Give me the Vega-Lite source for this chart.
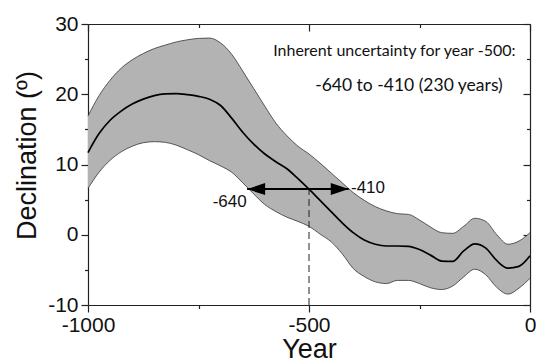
{
  "$schema": "https://vega.github.io/schema/vega-lite/v6.json",
  "width": 442,
  "height": 281,
  "autosize": {"type": "none"},
  "padding": {"left": 88, "top": 24, "right": 6, "bottom": 58},
  "background": "white",
  "config": {"view": {"stroke": null}, "font": "Liberation Sans"},
  "datasets": {
    "decl": [
      {"year": -1000, "upper": 16.9, "mid": 11.7, "lower": 6.6},
      {"year": -975, "upper": 19.8, "mid": 14.4, "lower": 8.9},
      {"year": -950, "upper": 22.0, "mid": 16.3, "lower": 10.6},
      {"year": -925, "upper": 23.7, "mid": 17.6, "lower": 11.8},
      {"year": -900, "upper": 24.9, "mid": 18.6, "lower": 12.6},
      {"year": -875, "upper": 25.8, "mid": 19.3, "lower": 13.1},
      {"year": -850, "upper": 26.5, "mid": 19.8, "lower": 13.25},
      {"year": -825, "upper": 27.0, "mid": 20.05, "lower": 13.15},
      {"year": -800, "upper": 27.45, "mid": 20.1, "lower": 12.75},
      {"year": -775, "upper": 27.75, "mid": 19.95, "lower": 12.1},
      {"year": -750, "upper": 27.95, "mid": 19.7, "lower": 11.4},
      {"year": -725, "upper": 28.0, "mid": 19.3, "lower": 10.55},
      {"year": -700, "upper": 27.3, "mid": 18.4, "lower": 9.8},
      {"year": -675, "upper": 25.7, "mid": 16.6, "lower": 8.9},
      {"year": -650, "upper": 23.3, "mid": 14.6, "lower": 7.4},
      {"year": -625, "upper": 20.8, "mid": 12.9, "lower": 5.8},
      {"year": -600, "upper": 18.3, "mid": 11.5, "lower": 4.3},
      {"year": -575, "upper": 15.9, "mid": 10.4, "lower": 3.3},
      {"year": -550, "upper": 14.1, "mid": 9.4, "lower": 2.5},
      {"year": -525, "upper": 12.6, "mid": 8.0, "lower": 1.9},
      {"year": -500, "upper": 11.5, "mid": 6.5, "lower": 1.2},
      {"year": -475, "upper": 10.2, "mid": 4.9, "lower": 0.1},
      {"year": -450, "upper": 8.8, "mid": 3.3, "lower": -1.0},
      {"year": -425, "upper": 7.4, "mid": 1.7, "lower": -2.7},
      {"year": -400, "upper": 6.0, "mid": 0.3, "lower": -4.8},
      {"year": -375, "upper": 4.9, "mid": -0.75, "lower": -5.95},
      {"year": -350, "upper": 4.0, "mid": -1.35, "lower": -6.7},
      {"year": -325, "upper": 3.4, "mid": -1.6, "lower": -6.95},
      {"year": -300, "upper": 3.0, "mid": -1.6, "lower": -6.5},
      {"year": -275, "upper": 2.9, "mid": -1.65, "lower": -6.5},
      {"year": -250, "upper": 2.1, "mid": -2.1, "lower": -6.95},
      {"year": -225, "upper": 1.1, "mid": -2.9, "lower": -7.55},
      {"year": -200, "upper": 0.3, "mid": -3.75, "lower": -7.8},
      {"year": -175, "upper": 0.2, "mid": -3.8, "lower": -7.3},
      {"year": -150, "upper": 1.2, "mid": -2.3, "lower": -6.0},
      {"year": -125, "upper": 2.35, "mid": -1.3, "lower": -4.9},
      {"year": -100, "upper": 1.9, "mid": -1.9, "lower": -5.7},
      {"year": -75, "upper": 0.0, "mid": -3.7, "lower": -7.5},
      {"year": -50, "upper": -1.35, "mid": -4.75, "lower": -8.45},
      {"year": -25, "upper": -0.9, "mid": -4.5, "lower": -7.6},
      {"year": 0, "upper": 0.3, "mid": -3.0, "lower": -6.2}
    ]
  },
  "layer": [
    {
      "data": {"name": "decl"},
      "mark": {"type": "area", "interpolate": "monotone", "color": "#b3b3b3", "opacity": 1},
      "encoding": {
        "x": {
          "field": "year", "type": "quantitative",
          "scale": {"domain": [-1000, 0], "nice": false, "zero": false},
          "axis": {
            "orient": "bottom",
            "values": [-1000, -750, -500, -250, 0],
            "labelExpr": "datum.value % 500 === 0 ? '' + datum.value : ''",
            "tickSize": {"condition": {"test": "datum.value % 500 !== 0", "value": 3.5}, "value": 7},
            "tickColor": "#222", "tickWidth": 1.2,
            "domainColor": "#222", "domainWidth": 1.2,
            "grid": false,
            "labelFont": "Liberation Sans", "labelFontSize": 21, "labelColor": "#111",
            "labelPadding": 2, "labelFlush": false, "labelOverlap": false, "labelBound": false,
            "title": "Year",
            "titleFont": "Liberation Sans", "titleFontSize": 27, "titleFontWeight": "normal", "titleColor": "#111",
            "titleBaseline": "alphabetic", "titleX": 221, "titleY": 52
          }
        },
        "y": {
          "field": "lower", "type": "quantitative",
          "scale": {"domain": [-10, 30], "nice": false, "zero": false},
          "axis": {
            "orient": "left",
            "values": [-10, -5, 0, 5, 10, 15, 20, 25, 30],
            "labelExpr": "datum.value % 10 === 0 ? '' + datum.value : ''",
            "tickSize": {"condition": {"test": "datum.value % 10 !== 0", "value": 3.5}, "value": 7},
            "tickColor": "#222", "tickWidth": 1.2,
            "domainColor": "#222", "domainWidth": 1.2,
            "grid": false,
            "labelFont": "Liberation Sans", "labelFontSize": 21, "labelColor": "#111",
            "labelPadding": 3, "labelOverlap": false, "labelBound": false, "labelFlush": false,
            "title": "Declination (º)",
            "titleFont": "Liberation Sans", "titleFontSize": 27, "titleFontWeight": "normal", "titleColor": "#111",
            "titleAngle": -90, "titleBaseline": "alphabetic", "titleAlign": "center",
            "titleX": -53, "titleY": 131
          }
        },
        "y2": {"field": "upper"}
      }
    },
    {
      "data": {"name": "decl"},
      "mark": {"type": "line", "interpolate": "monotone", "color": "#333", "strokeWidth": 0.8},
      "encoding": {
        "x": {
          "field": "year", "type": "quantitative",
          "axis": {
            "orient": "top",
            "values": [-1000, -750, -500, -250, 0],
            "labels": false,
            "tickSize": {"condition": {"test": "datum.value % 500 !== 0", "value": -3.5}, "value": -7},
            "tickColor": "#222", "tickWidth": 1.2,
            "domainColor": "#222", "domainWidth": 1.2,
            "grid": false, "title": null
          }
        },
        "y": {
          "field": "upper", "type": "quantitative",
          "axis": {
            "orient": "right",
            "values": [-10, -5, 0, 5, 10, 15, 20, 25, 30],
            "labels": false,
            "tickSize": {"condition": {"test": "datum.value % 10 !== 0", "value": -3.5}, "value": -7},
            "tickColor": "#222", "tickWidth": 1.2,
            "domainColor": "#222", "domainWidth": 1.2,
            "grid": false, "title": null
          }
        }
      }
    },
    {
      "data": {"name": "decl"},
      "mark": {"type": "line", "interpolate": "monotone", "color": "#333", "strokeWidth": 0.8},
      "encoding": {
        "x": {"field": "year", "type": "quantitative", "axis": null},
        "y": {"field": "lower", "type": "quantitative", "axis": null}
      }
    },
    {
      "data": {"name": "decl"},
      "mark": {"type": "line", "interpolate": "monotone", "color": "#000", "strokeWidth": 1.7},
      "encoding": {
        "x": {"field": "year", "type": "quantitative", "axis": null},
        "y": {"field": "mid", "type": "quantitative", "axis": null}
      }
    },
    {
      "data": {"values": [{"year": -500, "bottom": -10, "top": 6.5}]},
      "mark": {"type": "rule", "color": "#222", "strokeWidth": 1, "strokeDash": [7, 4]},
      "encoding": {
        "x": {"field": "year", "type": "quantitative", "axis": null},
        "y": {"field": "bottom", "type": "quantitative", "axis": null},
        "y2": {"field": "top"}
      }
    },
    {
      "data": {"values": [{"from": -640, "to": -410, "deg": 6.5}]},
      "mark": {"type": "rule", "color": "#000", "strokeWidth": 2},
      "encoding": {
        "x": {"field": "from", "type": "quantitative", "axis": null},
        "x2": {"field": "to"},
        "y": {"field": "deg", "type": "quantitative", "axis": null}
      }
    },
    {
      "data": {"values": [{"year": -640, "deg": 6.5}]},
      "mark": {"type": "point", "shape": "M0,0L2,-0.667L2,0.667Z", "size": 324, "filled": true, "color": "#000", "opacity": 1},
      "encoding": {
        "x": {"field": "year", "type": "quantitative", "axis": null},
        "y": {"field": "deg", "type": "quantitative", "axis": null}
      }
    },
    {
      "data": {"values": [{"year": -410, "deg": 6.5}]},
      "mark": {"type": "point", "shape": "M0,0L-2,-0.667L-2,0.667Z", "size": 324, "filled": true, "color": "#000", "opacity": 1},
      "encoding": {
        "x": {"field": "year", "type": "quantitative", "axis": null},
        "y": {"field": "deg", "type": "quantitative", "axis": null}
      }
    },
    {
      "data": {"values": [{"year": -641, "deg": 4.0, "label": "-640"}]},
      "mark": {"type": "text", "align": "right", "baseline": "alphabetic", "font": "Liberation Sans", "fontSize": 17, "color": "#111"},
      "encoding": {
        "x": {"field": "year", "type": "quantitative", "axis": null},
        "y": {"field": "deg", "type": "quantitative", "axis": null},
        "text": {"field": "label"}
      }
    },
    {
      "data": {"values": [{"year": -405, "deg": 5.9, "label": "-410"}]},
      "mark": {"type": "text", "align": "left", "baseline": "alphabetic", "font": "Liberation Sans", "fontSize": 17, "color": "#111"},
      "encoding": {
        "x": {"field": "year", "type": "quantitative", "axis": null},
        "y": {"field": "deg", "type": "quantitative", "axis": null},
        "text": {"field": "label"}
      }
    },
    {
      "data": {"values": [
        {"year": -581, "deg": 25.5, "note": "Inherent uncertainty for year -500:"}
      ]},
      "mark": {"type": "text", "align": "left", "baseline": "alphabetic", "font": "Lato", "fontSize": 16, "color": "#111"},
      "encoding": {
        "x": {"field": "year", "type": "quantitative", "axis": null},
        "y": {"field": "deg", "type": "quantitative", "axis": null},
        "text": {"field": "note"}
      }
    },
    {
      "data": {"values": [
        {"year": -486, "deg": 20.4, "note": "-640 to -410 (230 years)"}
      ]},
      "mark": {"type": "text", "align": "left", "baseline": "alphabetic", "font": "Lato", "fontSize": 17.5, "color": "#111"},
      "encoding": {
        "x": {"field": "year", "type": "quantitative", "axis": null},
        "y": {"field": "deg", "type": "quantitative", "axis": null},
        "text": {"field": "note"}
      }
    }
  ],
  "resolve": {"axis": {"x": "independent", "y": "independent"}}
}
